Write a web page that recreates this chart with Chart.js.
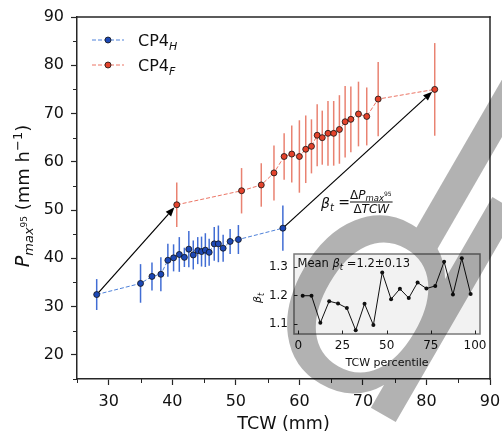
<!DOCTYPE html>
<html>
<head>
<meta charset="utf-8">
<script src="https://cdn.jsdelivr.net/npm/chart.js@4.4.1/dist/chart.umd.min.js"></script>
<style>
  html, body { margin: 0; padding: 0; background: #fff; }
  #wrap { position: relative; width: 502px; height: 436px; }
  #main { position: absolute; left: 0; top: 0; }
  #inset { position: absolute; left: 250px; top: 250px; }
  #mark { position: absolute; left: 0; top: 0; pointer-events: none; opacity: 0.3; }
</style>
</head>
<body>
<div id="wrap">
  <canvas id="main" width="502" height="436"></canvas>
  <canvas id="inset" width="240" height="122"></canvas>
  <canvas id="mark" width="502" height="436"></canvas>
</div>
<script>
// main panel: CP4 present-day (H) and future (F)
var tcwH = [28.1, 35.0, 36.8, 38.2, 39.3, 40.2, 41.1, 41.9, 42.6, 43.3, 44.0, 44.6, 45.2, 45.8, 46.6, 47.25, 48.0, 49.1, 50.4, 57.4];
var pH   = [32.5, 34.8, 36.25, 36.7, 39.6, 40.1, 40.8, 40.2, 41.9, 40.7, 41.6, 41.4, 41.7, 41.25, 43.0, 43.0, 42.1, 43.5, 43.9, 46.25];
var errH = [3.2, 4.0, 2.9, 3.5, 3.4, 2.8, 3.6, 2.0, 3.75, 3.0, 2.8, 3.1, 3.5, 2.8, 3.5, 3.8, 2.8, 2.6, 3.0, 4.7];

var tcwF = [40.7, 50.9, 54.0, 56.0, 57.6, 58.8, 60.0, 61.0, 61.9, 62.8, 63.6, 64.5, 65.4, 66.3, 67.2, 68.1, 69.3, 70.6, 72.4, 81.3];
var pF   = [51.1, 54.0, 55.2, 57.7, 61.1, 61.6, 61.1, 62.6, 63.2, 65.5, 65.0, 65.9, 65.9, 66.7, 68.3, 68.8, 69.9, 69.4, 73.0, 75.0];
var errF = [4.6, 4.7, 4.5, 5.7, 4.8, 5.9, 7.5, 7.0, 5.6, 6.4, 5.6, 6.7, 6.7, 7.1, 7.4, 6.8, 6.7, 6.0, 7.7, 9.6];

var xMajor = [30, 40, 50, 60, 70, 80, 90];
var xMinor = [25, 35, 45, 55, 65, 75, 85];
var yMajor = [20, 30, 40, 50, 60, 70, 80, 90];
var yMinor = [15, 25, 35, 45, 55, 65, 75, 85];

// inset: scaling rate per TCW percentile bin
var pctl = [2.5, 7.5, 12.5, 17.5, 22.5, 27.5, 32.5, 37.5, 42.5, 47.5, 52.5, 57.5, 62.5, 67.5, 72.5, 77.5, 82.5, 87.5, 92.5, 97.5];
var beta = [1.199, 1.199, 1.105, 1.180, 1.172, 1.156, 1.079, 1.171, 1.097, 1.280, 1.187, 1.223, 1.191, 1.245, 1.224, 1.233, 1.317, 1.203, 1.329, 1.205];
var insetX = [0, 25, 50, 75, 100];
var insetY = [1.1, 1.2, 1.3];

Chart.defaults.font.family = 'DejaVu Sans';
Chart.defaults.color = '#222';

var AX = '#262626';
var FONT = '"DejaVu Sans"';

function richText(c, parts, x, y, align) {
    var w = 0;
    parts.forEach(function (p) {
        c.font = p.font;
        p.w = c.measureText(p.text).width;
        w += p.w;
    });
    var cx = align === 'center' ? x - w / 2 : x;
    parts.forEach(function (p) {
        c.font = p.font;
        c.fillText(p.text, cx, y + (p.dy || 0));
        cx += p.w;
    });
    return w;
}

function arrow(c, x1, y1, x2, y2, shorten) {
    var ang = Math.atan2(y2 - y1, x2 - x1);
    x2 -= shorten * Math.cos(ang);
    y2 -= shorten * Math.sin(ang);
    var head = 9, half = 3.6;
    var bx = x2 - head * Math.cos(ang), by = y2 - head * Math.sin(ang);
    c.beginPath();
    c.moveTo(x1, y1);
    c.lineTo(bx, by);
    c.stroke();
    c.beginPath();
    c.moveTo(x2, y2);
    c.lineTo(bx + half * Math.sin(ang), by - half * Math.cos(ang));
    c.lineTo(bx - half * Math.sin(ang), by + half * Math.cos(ang));
    c.closePath();
    c.fill();
}

function legendItem(c, y, line, fill, sub) {
    c.save();
    c.strokeStyle = line;
    c.lineWidth = 1;
    c.setLineDash([4, 2]);
    c.beginPath();
    c.moveTo(92, y);
    c.lineTo(124, y);
    c.stroke();
    c.setLineDash([]);
    c.beginPath();
    c.arc(108, y, 3, 0, Math.PI * 2);
    c.fillStyle = fill;
    c.fill();
    c.lineWidth = 0.8;
    c.strokeStyle = '#111';
    c.stroke();
    c.fillStyle = '#111';
    c.textAlign = 'left';
    c.textBaseline = 'alphabetic';
    richText(c, [
        { text: 'CP4', font: '16px ' + FONT },
        { text: sub, font: 'italic 11px ' + FONT, dy: 4 }
    ], 138, y + 6, 'left');
    c.restore();
}

function noPad(s) {
    s.paddingTop = 0;
    s.paddingBottom = 0;
    s.paddingLeft = 0;
    s.paddingRight = 0;
}

var decor = {
    id: 'decor',
    beforeDraw: function (chart) {
        var c = chart.ctx;
        c.save();
        c.fillStyle = '#fff';
        c.fillRect(0, 0, chart.width, chart.height);
        c.restore();
    },
    beforeDatasetsDraw: function (chart) {
        var c = chart.ctx, a = chart.chartArea, xs = chart.scales.x, ys = chart.scales.y;
        c.save();
        c.setLineDash([]);
        // minor ticks
        c.strokeStyle = AX;
        c.lineWidth = 1;
        xMinor.forEach(function (v) {
            var px = Math.round(xs.getPixelForValue(v)) + 0.5;
            c.beginPath();
            c.moveTo(px, a.bottom);
            c.lineTo(px, a.bottom + 4);
            c.stroke();
        });
        yMinor.forEach(function (v) {
            var py = Math.round(ys.getPixelForValue(v)) + 0.5;
            c.beginPath();
            c.moveTo(a.left, py);
            c.lineTo(a.left - 4, py);
            c.stroke();
        });
        // error bars
        chart.data.datasets.forEach(function (ds) {
            c.strokeStyle = ds.errColor;
            c.lineWidth = 1.5;
            ds.data.forEach(function (pt, i) {
                var px = xs.getPixelForValue(pt.x);
                c.beginPath();
                c.moveTo(px, ys.getPixelForValue(pt.y - ds.errs[i]));
                c.lineTo(px, ys.getPixelForValue(pt.y + ds.errs[i]));
                c.stroke();
            });
        });
        // arrows from present to future at both ends
        c.strokeStyle = '#000';
        c.fillStyle = '#000';
        c.lineWidth = 1.2;
        var n = tcwH.length - 1;
        arrow(c, xs.getPixelForValue(tcwH[0]), ys.getPixelForValue(pH[0]),
            xs.getPixelForValue(tcwF[0]), ys.getPixelForValue(pF[0]), 3.5);
        arrow(c, xs.getPixelForValue(tcwH[n]), ys.getPixelForValue(pH[n]),
            xs.getPixelForValue(tcwF[n]), ys.getPixelForValue(pF[n]), 3.5);
        c.restore();
    },
    afterDraw: function (chart) {
        var c = chart.ctx, a = chart.chartArea;
        c.save();
        c.setLineDash([]);
        // top and right spines
        c.fillStyle = AX;
        c.fillRect(a.left - 0.75, a.top - 0.75, a.right - a.left + 1.5, 1.5);
        c.fillRect(a.right - 0.75, a.top - 0.75, 1.5, a.bottom - a.top + 1.5);

        // legend
        legendItem(c, 40, '#4f82da', '#1c48b6', 'H');
        legendItem(c, 65, '#ec7565', '#e4432c', 'F');

        // formula label
        c.fillStyle = '#111';
        c.textAlign = 'left';
        c.textBaseline = 'alphabetic';
        richText(c, [
            { text: 'β', font: 'italic 14px ' + FONT },
            { text: 't', font: 'italic 10px ' + FONT, dy: 3 },
            { text: ' = ', font: '14px ' + FONT, dy: -1 }
        ], 321, 208, 'left');
        var nw = richText(c, [
            { text: 'Δ', font: '12px ' + FONT },
            { text: 'P', font: 'italic 12px ' + FONT },
            { text: 'max', font: 'italic 8.5px ' + FONT, dy: 2.5 },
            { text: '95', font: '6px ' + FONT, dy: -2.5 }
        ], 350, 198.5, 'left');
        c.fillRect(350, 201.5, nw + 1, 1);
        richText(c, [
            { text: 'Δ', font: '12px ' + FONT },
            { text: 'TCW', font: 'italic 12px ' + FONT }
        ], 350 + (nw + 1) / 2, 212.5, 'center');

        // y axis title with sub/superscripts
        c.translate(28.5, 196);
        c.rotate(-Math.PI / 2);
        richText(c, [
            { text: 'P', font: 'italic 19px ' + FONT },
            { text: 'max', font: 'italic 13px ' + FONT, dy: 4 },
            { text: '95', font: '9px ' + FONT, dy: -2 },
            { text: ' (mm h', font: '18px ' + FONT },
            { text: '−1', font: '13px ' + FONT, dy: -7 },
            { text: ')', font: '18px ' + FONT }
        ], 0, 0, 'center');
        c.restore();
    }
};

var mainChart = new Chart(document.getElementById('main'), {
    type: 'line',
    data: {
        datasets: [{
            label: 'CP4_H',
            data: tcwH.map(function (x, i) { return { x: x, y: pH[i] }; }),
            borderColor: '#4f82da',
            borderWidth: 1,
            borderDash: [4, 2],
            pointRadius: 3,
            pointBackgroundColor: '#1c48b6',
            pointBorderColor: '#111',
            pointBorderWidth: 0.8,
            errs: errH,
            errColor: 'rgba(32, 84, 205, 0.85)'
        }, {
            label: 'CP4_F',
            data: tcwF.map(function (x, i) { return { x: x, y: pF[i] }; }),
            borderColor: '#ec7565',
            borderWidth: 1,
            borderDash: [4, 2],
            pointRadius: 3,
            pointBackgroundColor: '#e4432c',
            pointBorderColor: '#111',
            pointBorderWidth: 0.8,
            errs: errF,
            errColor: 'rgba(226, 88, 66, 0.75)'
        }]
    },
    options: {
        responsive: false,
        animation: false,
        devicePixelRatio: 1,
        layout: { padding: { top: 17, right: 12, left: 0, bottom: 0 } },
        plugins: { legend: { display: false }, tooltip: { enabled: false } },
        scales: {
            x: {
                type: 'linear',
                min: 25,
                max: 90,
                afterBuildTicks: function (s) { s.ticks = xMajor.map(function (v) { return { value: v }; }); },
                afterFit: function (s) { s.height = 57; noPad(s); },
                grid: { drawOnChartArea: false, tickLength: 6, tickColor: AX, tickWidth: 1.2 },
                border: { color: AX, width: 1.5 },
                ticks: { font: { size: 16 }, color: '#111', padding: 7, maxRotation: 0, autoSkip: false },
                title: { display: true, text: 'TCW (mm)', font: { size: 17.5 }, color: '#111', padding: { top: 0, bottom: 1 } }
            },
            y: {
                type: 'linear',
                min: 15,
                max: 90,
                afterBuildTicks: function (s) { s.ticks = yMajor.map(function (v) { return { value: v }; }); },
                afterFit: function (s) { s.width = 77; noPad(s); },
                grid: { drawOnChartArea: false, tickLength: 6, tickColor: AX, tickWidth: 1.2 },
                border: { color: AX, width: 1.5 },
                ticks: { font: { size: 16 }, color: '#111', padding: 7, autoSkip: false }
            }
        }
    },
    plugins: [decor]
});

var insetDecor = {
    id: 'insetDecor',
    beforeDatasetsDraw: function (chart) {
        var c = chart.ctx, a = chart.chartArea;
        c.save();
        c.fillStyle = '#f2f2f2';
        c.fillRect(a.left, a.top, a.right - a.left, a.bottom - a.top);
        c.restore();
    },
    afterDraw: function (chart) {
        var c = chart.ctx, a = chart.chartArea, xs = chart.scales.x, ys = chart.scales.y;
        c.save();
        c.setLineDash([]);
        c.strokeStyle = '#7a7a7a';
        c.lineWidth = 1.5;
        c.strokeRect(a.left, a.top, a.right - a.left, a.bottom - a.top);
        // inward ticks
        c.strokeStyle = '#222';
        c.lineWidth = 1;
        insetX.forEach(function (v) {
            var px = Math.round(xs.getPixelForValue(v)) + 0.5;
            c.beginPath();
            c.moveTo(px, a.bottom);
            c.lineTo(px, a.bottom - 3.5);
            c.stroke();
        });
        insetY.forEach(function (v) {
            var py = Math.round(ys.getPixelForValue(v)) + 0.5;
            c.beginPath();
            c.moveTo(a.left, py);
            c.lineTo(a.left + 3.5, py);
            c.stroke();
        });
        c.fillStyle = '#111';
        c.textAlign = 'left';
        c.textBaseline = 'alphabetic';
        richText(c, [
            { text: 'Mean ', font: '11.5px ' + FONT },
            { text: 'β', font: 'italic 11.5px ' + FONT },
            { text: 't', font: 'italic 8.5px ' + FONT, dy: 3 },
            { text: ' =1.2±0.13', font: '11.5px ' + FONT }
        ], a.left + 3.5, a.top + 13, 'left');
        c.translate(11, (a.top + a.bottom) / 2 + 4);
        c.rotate(-Math.PI / 2);
        richText(c, [
            { text: 'β', font: 'italic 11px ' + FONT },
            { text: 't', font: 'italic 8px ' + FONT, dy: 3 }
        ], 0, 0, 'center');
        c.restore();
    }
};

var insetChart = new Chart(document.getElementById('inset'), {
    type: 'line',
    data: {
        datasets: [{
            data: pctl.map(function (x, i) { return { x: x, y: beta[i] }; }),
            borderColor: '#111',
            borderWidth: 1,
            pointRadius: 2,
            pointBackgroundColor: '#111',
            pointBorderWidth: 0
        }]
    },
    options: {
        responsive: false,
        animation: false,
        devicePixelRatio: 1,
        layout: { padding: { top: 4, right: 10, left: 0, bottom: 0 } },
        plugins: { legend: { display: false }, tooltip: { enabled: false } },
        scales: {
            x: {
                type: 'linear',
                min: -2.4,
                max: 102.8,
                afterBuildTicks: function (s) { s.ticks = insetX.map(function (v) { return { value: v }; }); },
                afterFit: function (s) { s.height = 38; noPad(s); },
                grid: { display: false, drawTicks: false },
                border: { display: false },
                ticks: { font: { size: 12 }, color: '#111', padding: 5, maxRotation: 0, autoSkip: false },
                title: { display: true, text: 'TCW percentile', font: { size: 11 }, color: '#111', padding: { top: 0, bottom: 2 } }
            },
            y: {
                type: 'linear',
                min: 1.066,
                max: 1.344,
                afterBuildTicks: function (s) { s.ticks = insetY.map(function (v) { return { value: v }; }); },
                afterFit: function (s) { s.width = 44; noPad(s); },
                grid: { display: false, drawTicks: false },
                border: { display: false },
                ticks: { font: { size: 12 }, color: '#111', padding: 6, autoSkip: false,
                    callback: function (v) { return v.toFixed(1); } }
            }
        }
    },
    plugins: [insetDecor]
});

// grey watermark strokes lying over the lower right of the figure
// (drawn solid, the canvas itself carries the transparency so overlaps stay even)
var wm = document.getElementById('mark').getContext('2d');
function markGlyph(ch, x, y) {
    wm.save();
    wm.translate(x, y);
    wm.rotate(Math.PI / 6);
    wm.font = '320px ' + FONT;
    wm.fillStyle = '#000';
    wm.textAlign = 'left';
    wm.textBaseline = 'alphabetic';
    wm.fillText(ch, 0, 0);
    wm.restore();
}
markGlyph('d', 245, 335);
markGlyph('l', 382, 227);
</script>
</body>
</html>
